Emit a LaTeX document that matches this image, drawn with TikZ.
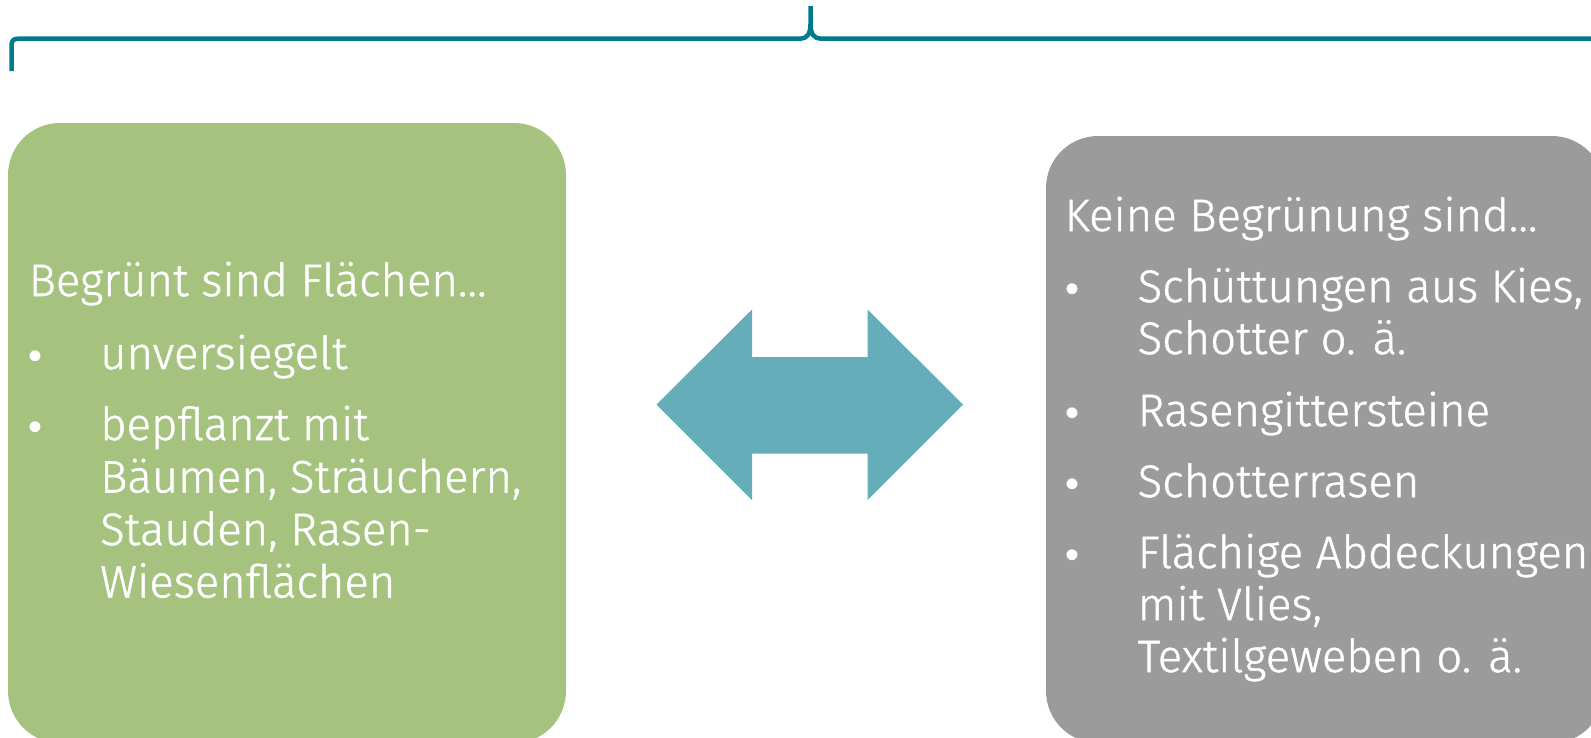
\documentclass[tikz,border=0pt]{standalone}
\usepackage{fontspec}
\IfFontExistsTF{FiraSans-Book.otf}
  {\setmainfont{FiraSans-Book.otf}[UprightFeatures={FakeBold=0.3}]}
  {\setmainfont{Fira Sans}[UprightFont={* Light}, UprightFeatures={FakeBold=1.1}]}
\newfontfamily\bulletfont{Liberation Sans}
\definecolor{boxgreen}{HTML}{A5C37F}
\definecolor{boxgray}{HTML}{9B9B9B}
\definecolor{arrowteal}{HTML}{65ADB9}
\definecolor{bracecol}{HTML}{007A8D}
\tikzset{
  txt/.style={inner sep=0pt, anchor=base west, text=white, font=\fontsize{45.5}{52}\selectfont},
  bul/.style={inner sep=0pt, anchor=base, text=white, font=\bulletfont\fontsize{40}{52}\selectfont},
  panel/.style={rounded corners=52pt},
  bracestyle/.style={draw=bracecol, line width=4.5pt, line join=round},
}
\begin{document}
\begin{tikzpicture}[x=1pt,y=-1pt]
\clip (0,0) rectangle (1591,737);
\useasboundingbox (0,0) rectangle (1591,737);
% brace
\draw[bracestyle] (11.5,71) -- (11.5,46) .. controls (11.5,41) and (13,38.7) .. (18,38.7) -- (800,38.7) .. controls (807,38.7) and (810.5,34) .. (810.5,24) -- (810.5,6);
\draw[bracestyle] (810.5,24) .. controls (810.5,34) and (814,38.7) .. (821,38.7) -- (1620,38.7);
% boxes
\fill[boxgreen, panel] (8,123) rectangle (566,743);
\fill[boxgray, panel] (1046,136) rectangle (1604,743);
% double arrow
\fill[arrowteal] (656.5,404.5) -- (752,309.5) -- (752,357) -- (867.5,357) -- (867.5,309.5) -- (963,404.5) -- (867.5,500) -- (867.5,453.5) -- (752,453.5) -- (752,500) -- cycle;
% left text
\node[txt] (lh) at (28.5,296) {Begrünt sind Flächen…};
\node[bul] (lb1) at (36,369) {•};
\node[txt] (l1) at (100,369) {unversiegelt};
\node[bul] (lb2) at (36,440) {•};
\node[txt] (l2a) at (100,440) {bepflanzt mit};
\node[txt] (l2b) at (100,492.5) {Bäumen, Sträuchern,};
\node[txt] (l2c) at (100,545) {Stauden, Rasen-};
\node[txt] (l2d) at (100,597.5) {Wiesenflächen};
% right text
\node[txt] (rh) at (1064.5,231) {Keine Begrünung sind…};
\node[bul] (rb1) at (1072.5,302) {•};
\node[txt] (r1a) at (1137.5,302) {Schüttungen aus Kies,};
\node[txt] (r1b) at (1137.5,354) {Schotter o. ä.};
\node[bul] (rb2) at (1072.5,426) {•};
\node[txt] (r2) at (1137.5,426) {Rasengittersteine};
\node[bul] (rb3) at (1072.5,497) {•};
\node[txt] (r3) at (1137.5,497) {Schotterrasen};
\node[bul] (rb4) at (1072.5,568) {•};
\node[txt] (r4a) at (1137.5,568) {Flächige Abdeckungen};
\node[txt] (r4b) at (1137.5,620) {mit Vlies,};
\node[txt] (r4c) at (1137.5,672) {Textilgeweben o. ä.};
\end{tikzpicture}
\end{document}
